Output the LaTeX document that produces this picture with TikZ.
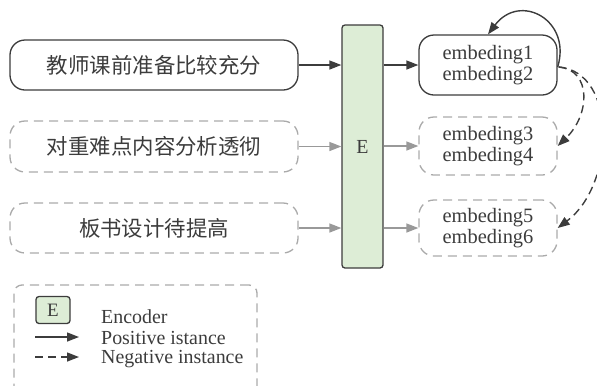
\documentclass[tikz,border=0pt]{standalone}
\usepackage{fontspec}
\setmainfont{Liberation Serif}
\newfontfamily\cjk{Noto Sans CJK SC}
\usetikzlibrary{arrows.meta}
\definecolor{dk}{HTML}{3C3C3C}
\definecolor{gr}{HTML}{AAAAAA}
\definecolor{ga}{HTML}{999999}
\definecolor{encg}{HTML}{DDEDD6}
\begin{document}
\begin{tikzpicture}[x=1bp,y=-1bp,
  solidbox/.style={draw=dk, line width=1.3bp, rounded corners=15bp, inner sep=0pt, text=dk},
  dashbox/.style={draw=gr, line width=1.3bp, dash pattern=on 9bp off 6bp, rounded corners=15bp, inner sep=0pt, text=dk},
  leftbox/.style={minimum width=288bp, minimum height=50bp, font=\cjk\fontsize{21.5}{24}\selectfont},
  embbox/.style={minimum width=138bp, align=center, font=\fontsize{20.5}{21}\selectfont},
  encbox/.style={draw=dk, fill=encg, line width=1.3bp, rounded corners=3bp, inner sep=0pt, text=dk},
  posarrow/.style={draw=dk, line width=1.4bp, -{Triangle[length=12bp,width=9bp]}},
  grarrow/.style={draw=ga, line width=1.4bp, -{Triangle[length=12bp,width=9bp]}},
  negarrow/.style={draw=dk, line width=1.4bp, dash pattern=on 8bp off 5bp, -{Triangle[length=12bp,width=9bp]}},
  legtext/.style={anchor=west, inner sep=0pt, text=dk, font=\fontsize{20}{21}\selectfont}
]
\useasboundingbox (0,0) rectangle (597,385);
\clip (0,0) rectangle (597,385);
% left boxes
\node[solidbox, leftbox] (b1) at (154,65) {教师课前准备比较充分};
\node[dashbox, leftbox, minimum height=51bp] (b2) at (154,146.5) {对重难点内容分析透彻};
\node[dashbox, leftbox] (b3) at (154,228) {板书设计待提高};
% encoder
\node[encbox, minimum width=41bp, minimum height=243bp, font=\fontsize{20}{21}\selectfont] (E) at (362.5,146.5) {E};
% embedding boxes
\node[solidbox, embbox, minimum height=60bp] (e1) at (488,65) {embeding1\\embeding2};
\node[dashbox, embbox, minimum height=58bp] (e2) at (488,146) {embeding3\\embeding4};
\node[dashbox, embbox, minimum height=56bp] (e3) at (488,228) {embeding5\\embeding6};
% arrows
\draw[posarrow] (b1.east) -- (b1.east -| E.west);
\draw[grarrow] (b2.east) -- (b2.east -| E.west);
\draw[grarrow] (b3.east) -- (b3.east -| E.west);
\draw[posarrow] (e1.west -| E.east) -- (e1.west);
\draw[grarrow] (e2.west -| E.east) -- (e2.west);
\draw[grarrow] (e3.west -| E.east) -- (e3.west);
% self loop
\draw[posarrow] ([yshift=-2bp]e1.east) .. controls (572,20) and (520,-8) .. (e1.north);
% negative curves
\draw[negarrow] ([xshift=1bp,yshift=-2bp]e1.east) .. controls (592,70) and (590,115) .. (e2.east);
\draw[negarrow] ([xshift=1bp,yshift=-2bp]e1.east) .. controls (618,72) and (615,185) .. (e3.east);
% legend
\node[draw=gr, line width=1.3bp, dash pattern=on 9bp off 6bp, rounded corners=8bp, minimum width=243bp, minimum height=140bp, inner sep=0pt] (leg) at (135.5,355) {};
\node[encbox, minimum width=34bp, minimum height=27bp, font=\fontsize{19}{20}\selectfont] (le) at (53,310) {E};
\node[legtext] (lt1) at (101,317) {Encoder};
\coordinate (pa1) at (35,337);
\coordinate (pa2) at (79,337);
\draw[posarrow] (pa1) -- (pa2);
\node[legtext] (lt2) at (101,338) {Positive istance};
\coordinate (na1) at (35,357);
\coordinate (na2) at (79,357);
\draw[negarrow] (na1) -- (na2);
\node[legtext] (lt3) at (101,359) {Negative instance};
\end{tikzpicture}
\end{document}
